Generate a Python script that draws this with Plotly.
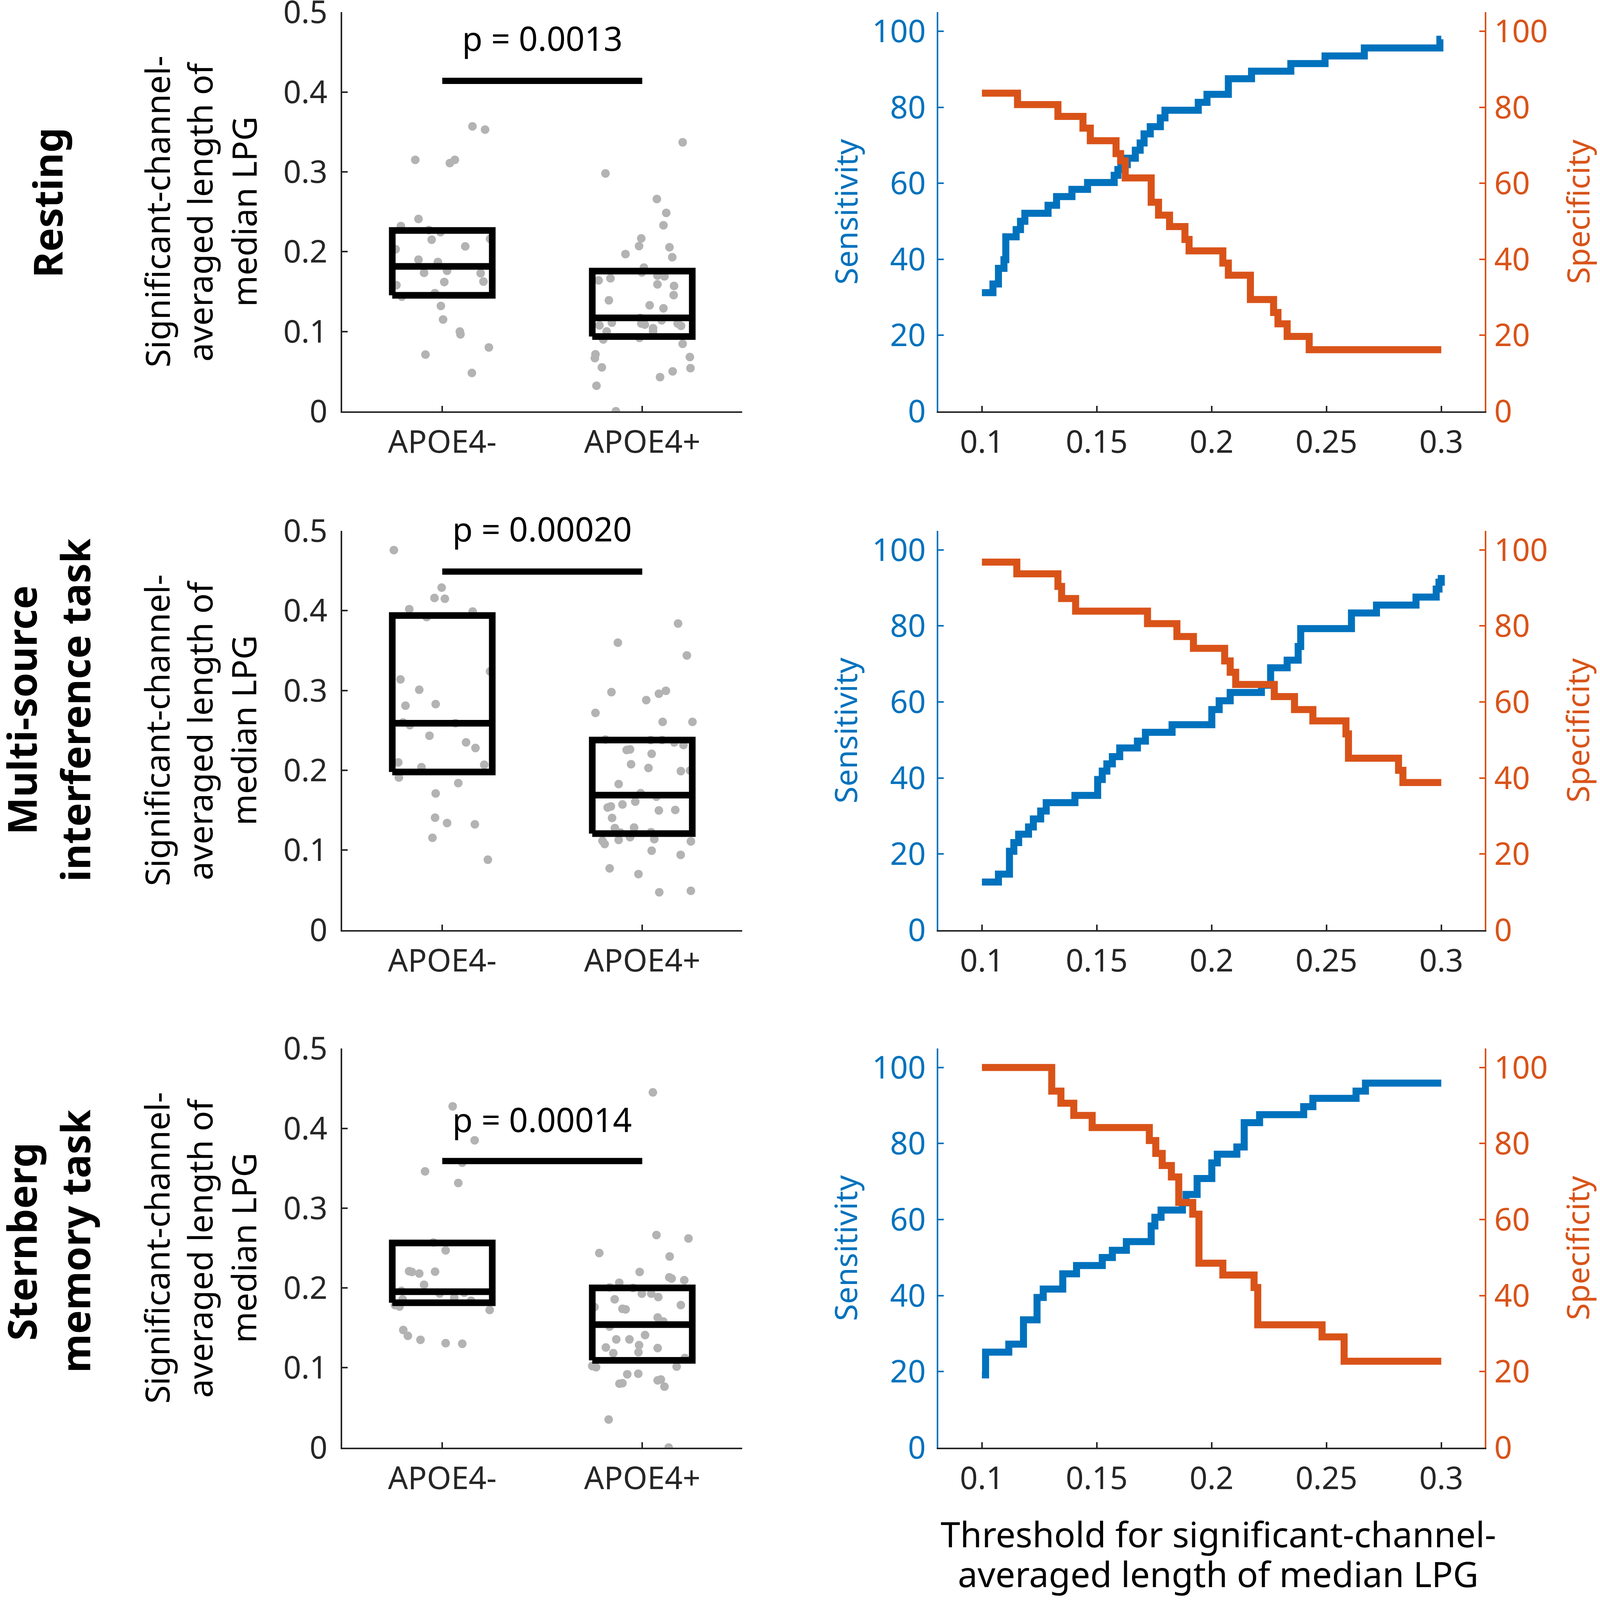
import plotly.graph_objects as go

# the browser viewport is 4096 x 4096; the page is laid out in fractions of the
# reference picture (4212 x 4439 px), so the panels keep the reference proportions
REF_W, REF_H = 4212, 4439
W, H = 4096, 4096

groups = ["APOE4-", "APOE4+"]
conditions = [["Resting"], ["Multi-source", "interference task"], ["Sternberg", "memory task"]]
ytitle_lines = ["Significant-channel-", "averaged length of", "median LPG"]
xtitle_lines = ["Threshold for significant-channel-", "averaged length of median LPG"]

p_labels = ["p = 0.0013", "p = 0.00020", "p = 0.00014"]
p_label_y = [0.468, 0.503, 0.4115]
sig_bar_y = [0.414, 0.449, 0.359]

# box: lower quartile, median, upper quartile per group (APOE4-, APOE4+)
box_q1 = [[0.1453, 0.0937], [0.198, 0.1207], [0.1814, 0.1093]]
box_med = [[0.1815, 0.117], [0.259, 0.169], [0.1953, 0.154]]
box_q3 = [[0.2266, 0.1756], [0.394, 0.238], [0.2563, 0.200]]

# resting, APOE4-
rest_neg_x = [1.151, 1.214, 0.865, 1.038, 1.063, 0.881, 0.793, 0.933, 0.991, 0.947, 1.239, 1.115, 0.767, 0.881, 0.978,
              1.024, 0.909, 1.192, 0.771, 1.010, 1.206, 0.798, 0.963, 0.993, 1.004, 1.088, 1.091, 0.916, 1.233, 1.148]
rest_neg_y = [0.357, 0.353, 0.315, 0.311, 0.315, 0.241, 0.232, 0.227, 0.2245, 0.215, 0.216, 0.2066, 0.203, 0.190, 0.187,
              0.176, 0.1735, 0.173, 0.158, 0.162, 0.1625, 0.1436, 0.148, 0.132, 0.115, 0.0999, 0.0964, 0.071, 0.080, 0.048]
# resting, APOE4+
rest_pos_x = [2.202, 1.816, 2.073, 2.120, 2.106, 1.995, 1.984, 1.916, 2.136, 2.150, 2.008, 1.998, 2.076, 2.111, 1.782,
              1.841, 2.076, 2.159, 2.157, 1.833, 2.037, 2.106, 1.990, 2.097, 1.848, 1.995, 2.013, 2.177, 1.786, 2.194,
              2.054, 1.822, 2.054, 1.805, 1.986, 2.202, 1.766, 1.763, 2.238, 1.798, 2.241, 2.152, 2.089, 1.771, 1.868]
rest_pos_y = [0.337, 0.298, 0.266, 0.2486, 0.233, 0.2166, 0.207, 0.197, 0.2055, 0.193, 0.180, 0.174, 0.170, 0.169, 0.164,
              0.1666, 0.159, 0.157, 0.1455, 0.139, 0.1328, 0.129, 0.117, 0.114, 0.111, 0.110, 0.1086, 0.110, 0.1076, 0.107,
              0.104, 0.100, 0.100, 0.090, 0.092, 0.0845, 0.0714, 0.0666, 0.068, 0.055, 0.054, 0.050, 0.0428, 0.032, 0.0]

# multi-source interference task, APOE4-
msit_neg_x = [0.758, 0.997, 0.961, 1.013, 0.835, 1.152, 0.922, 1.239, 0.791, 0.885, 0.816, 0.967, 0.804, 0.838, 1.066,
              0.936, 1.119, 1.166, 0.780, 1.210, 0.896, 0.783, 1.080, 0.967, 0.964, 1.024, 1.163, 0.951, 1.228]
msit_neg_y = [0.476, 0.429, 0.416, 0.415, 0.402, 0.399, 0.392, 0.324, 0.314, 0.301, 0.281, 0.283, 0.260, 0.2566, 0.259,
              0.2434, 0.235, 0.228, 0.210, 0.207, 0.204, 0.191, 0.184, 0.171, 0.1407, 0.134, 0.1324, 0.1155, 0.088]
# multi-source interference task, APOE4+
msit_pos_x = [2.179, 1.878, 2.223, 1.846, 2.118, 2.083, 2.020, 1.766, 2.102, 2.251, 1.816, 2.042, 2.099, 2.160, 2.206,
              1.922, 1.939, 2.047, 1.944, 2.031, 2.193, 2.239, 1.882, 1.992, 2.071, 1.827, 1.843, 1.901, 1.965, 2.083,
              2.165, 1.849, 1.863, 1.959, 1.890, 2.044, 1.801, 1.882, 1.939, 2.060, 2.243, 1.812, 2.047, 2.192, 1.837,
              1.981, 2.085, 2.243]
msit_pos_y = [0.384, 0.360, 0.344, 0.298, 0.2997, 0.296, 0.288, 0.272, 0.2607, 0.2607, 0.2386, 0.238, 0.238, 0.235, 0.2317,
              0.2255, 0.2262, 0.2207, 0.2076, 0.203, 0.199, 0.1997, 0.1828, 0.1714, 0.167, 0.1534, 0.1548, 0.1572, 0.1607, 0.1497,
              0.1503, 0.1403, 0.1276, 0.1283, 0.122, 0.1224, 0.1117, 0.1128, 0.1162, 0.1138, 0.111, 0.1076, 0.0993, 0.0941, 0.0772,
              0.070, 0.0472, 0.049]

# Sternberg memory task, APOE4-
stern_neg_x = [1.052, 1.162, 0.914, 1.100, 1.080, 0.956, 1.017, 0.834, 0.848, 0.885, 0.964, 0.909, 0.796, 0.987, 1.110,
               0.802, 1.060, 1.144, 0.764, 0.786, 1.237, 0.805, 0.828, 0.891, 1.017, 1.100]
stern_neg_y = [0.4276, 0.385, 0.346, 0.357, 0.3315, 0.257, 0.247, 0.221, 0.220, 0.218, 0.2204, 0.204, 0.1964, 0.193, 0.194,
               0.1857, 0.1875, 0.184, 0.1785, 0.1767, 0.1724, 0.1473, 0.140, 0.135, 0.1308, 0.130]
# Sternberg memory task, APOE4+
stern_pos_x = [2.053, 2.071, 2.231, 1.785, 2.137, 1.987, 2.135, 2.147, 1.885, 2.210, 1.837, 1.954, 1.998, 2.045, 2.080,
               1.862, 2.193, 1.761, 1.901, 1.917, 2.077, 2.105, 1.837, 2.014, 1.870, 1.936, 1.818, 1.984, 2.077, 1.855,
               1.981, 2.213, 1.750, 1.769, 2.172, 1.925, 1.980, 1.886, 1.901, 2.077, 2.093, 2.111, 1.832, 2.132]
stern_pos_y = [0.445, 0.2663, 0.262, 0.2437, 0.2394, 0.220, 0.2133, 0.2118, 0.2065, 0.2097, 0.2007, 0.200, 0.1928, 0.1928, 0.1885,
               0.1857, 0.1785, 0.176, 0.1738, 0.1731, 0.163, 0.158, 0.1516, 0.1409, 0.1355, 0.1355, 0.1254, 0.1283, 0.1247, 0.1183,
               0.1194, 0.1122, 0.1022, 0.1007, 0.1014, 0.0918, 0.0925, 0.080, 0.0806, 0.0842, 0.0853, 0.0763, 0.0351, 0.0]

dots_x = [[rest_neg_x, rest_pos_x], [msit_neg_x, msit_pos_x], [stern_neg_x, stern_pos_x]]
dots_y = [[rest_neg_y, rest_pos_y], [msit_neg_y, msit_pos_y], [stern_neg_y, stern_pos_y]]

# sensitivity / specificity (%) against the threshold, step curves
rest_sens_t = [0.1000, 0.1048, 0.1072, 0.1096, 0.1104, 0.1149, 0.1168, 0.1187, 0.1288, 0.1325, 0.1392, 0.1460, 0.1576,
               0.1592, 0.1605, 0.1633, 0.1668, 0.1689, 0.1706, 0.1733, 0.1777, 0.1797, 0.1942, 0.1980, 0.2073, 0.2174,
               0.2345, 0.2494, 0.2665, 0.2994, 0.3000]
rest_sens = [31.2, 33.5, 37.6, 39.9, 45.9, 47.8, 50.0, 52.1, 54.2, 56.5, 58.4, 60.2, 62.1, 63.6, 64.9, 66.6, 68.7, 70.6,
             73.0, 74.9, 77.2, 79.2, 81.3, 83.4, 87.5, 89.5, 91.5, 93.5, 95.6, 97.9, 97.9]
rest_spec_t = [0.1000, 0.1155, 0.1331, 0.1440, 0.1472, 0.1584, 0.1604, 0.1624, 0.1737, 0.1769, 0.1817, 0.1884, 0.1902,
               0.2049, 0.2073, 0.2169, 0.2270, 0.2289, 0.2329, 0.2425, 0.3000]
rest_spec = [83.7, 80.7, 77.6, 74.5, 71.2, 67.8, 65.9, 61.4, 55.0, 51.6, 48.6, 45.2, 42.2, 39.0, 35.8, 29.4, 26.0, 23.0,
             19.7, 16.2, 16.2]

msit_sens_t = [0.1000, 0.1072, 0.1120, 0.1139, 0.1160, 0.1203, 0.1224, 0.1256, 0.1280, 0.1405, 0.1504, 0.1524, 0.1544,
               0.1568, 0.1600, 0.1677, 0.1712, 0.1828, 0.2001, 0.2033, 0.2081, 0.2217, 0.2257, 0.2329, 0.2377, 0.2388,
               0.2609, 0.2718, 0.2890, 0.2978, 0.2990, 0.3000]
msit_sens = [12.6, 14.7, 20.7, 23.0, 25.2, 27.1, 29.2, 31.3, 33.5, 35.4, 39.6, 41.8, 43.7, 45.6, 47.9, 49.7, 52.0, 54.0,
             58.0, 60.3, 62.5, 64.4, 69.0, 71.0, 74.6, 79.3, 83.4, 85.5, 87.6, 89.7, 91.5, 93.4]
msit_spec_t = [0.1000, 0.1152, 0.1331, 0.1347, 0.1408, 0.1721, 0.1849, 0.1921, 0.2057, 0.2081, 0.2105, 0.2273, 0.2361,
               0.2441, 0.2585, 0.2596, 0.2814, 0.2833, 0.3000]
msit_spec = [96.8, 93.7, 90.4, 87.2, 83.9, 80.6, 77.2, 74.1, 70.8, 67.8, 64.6, 61.4, 58.0, 55.0, 51.6, 45.2, 42.0, 38.8, 38.8]

stern_sens_t = [0.1000, 0.1016, 0.1117, 0.1181, 0.1240, 0.1267, 0.1352, 0.1412, 0.1524, 0.1568, 0.1629, 0.1737, 0.1753,
                0.1780, 0.1873, 0.1889, 0.1937, 0.2001, 0.2025, 0.2110, 0.2142, 0.2209, 0.2401, 0.2441, 0.2629, 0.2670,
                0.3000]
stern_sens = [19.1, 25.1, 27.2, 33.6, 39.5, 41.7, 45.7, 47.9, 50.0, 51.9, 54.2, 58.3, 60.6, 62.5, 64.4, 66.6, 70.8, 74.9,
              77.2, 79.1, 85.5, 87.6, 89.7, 91.9, 93.8, 95.9, 95.9]
stern_spec_t = [0.1000, 0.1304, 0.1344, 0.1400, 0.1480, 0.1729, 0.1757, 0.1785, 0.1825, 0.1857, 0.1918, 0.1945, 0.2049,
                0.2185, 0.2201, 0.2481, 0.2577, 0.3000]
stern_spec = [100, 93.8, 90.6, 87.4, 84.2, 80.8, 77.4, 74.2, 71.2, 64.5, 61.4, 48.5, 45.4, 42.1, 32.3, 29.1, 22.7, 22.7]

sens_t = [rest_sens_t, msit_sens_t, stern_sens_t]
sens = [rest_sens, msit_sens, stern_sens]
spec_t = [rest_spec_t, msit_spec_t, stern_spec_t]
spec = [rest_spec, msit_spec, stern_spec]

thr_ticks = [0.1, 0.15, 0.2, 0.25, 0.3]
pct_ticks = [0, 20, 40, 60, 80, 100]
len_ticks = [0, 0.1, 0.2, 0.3, 0.4, 0.5]

BLUE = "#0072BD"
ORANGE = "#D95319"
INK = "#262626"
DOT = "#B3B3B3"
FONT = "Noto Sans"


def px(x):
    return x / REF_W


def py(y):
    return 1 - y / REF_H


def ref(kind, i):
    return kind if i == 1 else f"{kind}{i}"


def key(kind, i):
    return f"{kind}axis" if i == 1 else f"{kind}axis{i}"


# panel geometry, in pixels of the reference picture
row_top = [34, 1473, 2909]
row_bot = [1141, 2580, 4016]
left_x = [901, 1954]
right_x = [2470, 3909]

fig = go.Figure()
layout = {}
annotations = []

tick_font = dict(family=FONT, size=80, color=INK)
axis_common = dict(showgrid=False, zeroline=False, showline=True, linewidth=4, ticks="inside",
                   ticklen=14, tickwidth=4, fixedrange=True, automargin=False, ticklabeloverflow="allow")


def label(x, y, text, size, color="black", angle=0, **kw):
    annotations.append(dict(x=x, y=y, text=text, textangle=angle, showarrow=False, xanchor="center",
                            yanchor="middle", font=dict(family=FONT, size=size, color=color), **kw))


for r in range(3):
    lx, rx = 2 * r + 1, 2 * r + 2
    ly, ry, ry2 = 3 * r + 1, 3 * r + 2, 3 * r + 3
    ydom = [py(row_bot[r]), py(row_top[r])]

    layout[key("x", lx)] = dict(axis_common, domain=[px(left_x[0]), px(left_x[1])], anchor=ref("y", ly),
                                range=[0.5, 2.5], tickvals=[1, 2], ticktext=groups, linecolor=INK, tickcolor=INK,
                                tickfont=tick_font, ticklabelstandoff=6)
    layout[key("y", ly)] = dict(axis_common, domain=ydom, anchor=ref("x", lx), range=[0, 0.5],
                                tickvals=len_ticks, ticktext=[f"{v:g}" for v in len_ticks], linecolor=INK,
                                tickcolor=INK, tickfont=tick_font, ticklabelstandoff=18)
    layout[key("x", rx)] = dict(axis_common, domain=[px(right_x[0]), px(right_x[1])], anchor=ref("y", ry),
                                range=[0.081, 0.319], tickvals=thr_ticks, ticktext=[f"{v:g}" for v in thr_ticks],
                                linecolor=INK, tickcolor=INK, tickfont=tick_font, ticklabelstandoff=6)
    layout[key("y", ry)] = dict(axis_common, domain=ydom, anchor=ref("x", rx), range=[0, 105],
                                tickvals=pct_ticks, linecolor=BLUE, tickcolor=BLUE,
                                tickfont=dict(family=FONT, size=80, color=BLUE), ticklabelstandoff=12)
    layout[key("y", ry2)] = dict(axis_common, domain=ydom, anchor=ref("x", rx), overlaying=ref("y", ry),
                                 side="right", range=[0, 105], tickvals=pct_ticks, linecolor=ORANGE,
                                 tickcolor=ORANGE, tickfont=dict(family=FONT, size=80, color=ORANGE),
                                 ticklabelstandoff=4)

    # jittered points
    for g in range(2):
        fig.add_trace(go.Scatter(x=dots_x[r][g], y=dots_y[r][g], mode="markers",
                                 marker=dict(color=DOT, size=22, line=dict(width=0)),
                                 xaxis=ref("x", lx), yaxis=ref("y", ly), showlegend=False))
    # quartile boxes with median line
    for g in range(2):
        c = g + 1
        q1, md, q3 = box_q1[r][g], box_med[r][g], box_q3[r][g]
        fig.add_trace(go.Scatter(x=[c - 0.25, c + 0.25, c + 0.25, c - 0.25, c - 0.25, None, c - 0.25, c + 0.25],
                                 y=[q1, q1, q3, q3, q1, None, md, md], mode="lines",
                                 line=dict(color="black", width=17), xaxis=ref("x", lx), yaxis=ref("y", ly),
                                 showlegend=False))
    # significance bar and p value
    fig.add_trace(go.Scatter(x=[1, 2], y=[sig_bar_y[r], sig_bar_y[r]], mode="lines",
                             line=dict(color="black", width=16), xaxis=ref("x", lx), yaxis=ref("y", ly),
                             showlegend=False))
    p_paper = ydom[0] + p_label_y[r] / 0.5 * (ydom[1] - ydom[0])
    label(1.5, p_paper, p_labels[r], 85, xref=ref("x", lx), yref="paper")

    # sensitivity and specificity curves
    fig.add_trace(go.Scatter(x=sens_t[r], y=sens[r], mode="lines", line=dict(color=BLUE, width=18, shape="hv"),
                             xaxis=ref("x", rx), yaxis=ref("y", ry), showlegend=False))
    fig.add_trace(go.Scatter(x=spec_t[r], y=spec[r], mode="lines", line=dict(color=ORANGE, width=18, shape="hv"),
                             xaxis=ref("x", rx), yaxis=ref("y", ry2), showlegend=False))

    yc = (row_top[r] + row_bot[r]) / 2
    for i, line in enumerate(ytitle_lines):
        label(px([412, 525, 641][i]), py(yc), line, 86, angle=-90, xref="paper", yref="paper")
    label(px(2225), py(yc), "Sensitivity", 79, BLUE, -90, xref="paper", yref="paper")
    label(px(4152), py(yc), "Specificity", 79, ORANGE, -90, xref="paper", yref="paper")
    # condition labels
    lab = conditions[r]
    lab_x = [124] if len(lab) == 1 else [56, 197]
    lab_y = [562, 1970, 3444][r]
    for i, line in enumerate(lab):
        label(px(lab_x[i]), py(lab_y), f"<b>{line}</b>", 102, angle=-90, xref="paper", yref="paper")

for i, line in enumerate(xtitle_lines):
    label(px(3207), py([4255, 4365][i]), line, 90, xref="paper", yref="paper")

fig.update_layout(layout)
fig.update_layout(width=W, height=H, margin=dict(l=0, r=0, t=0, b=0), paper_bgcolor="white",
                  plot_bgcolor="white", annotations=annotations, showlegend=False)

# drop the page margin and let the figure take the whole browser window
fit = ("document.body.style.margin='0';"
       "var gd=document.getElementById('{plot_id}');"
       "if(window.innerWidth!==gd.layout.width||window.innerHeight!==gd.layout.height)"
       "{Plotly.relayout(gd,{width:window.innerWidth,height:window.innerHeight});}")
fig.write_html("out.html", post_script=fit, config={"displayModeBar": False})
